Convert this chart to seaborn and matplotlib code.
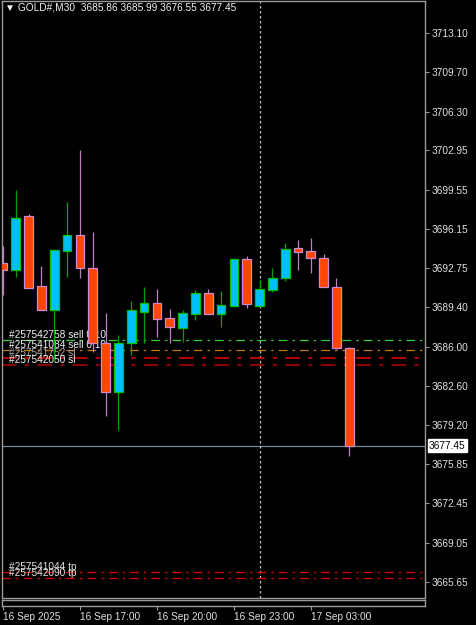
import numpy as np
import pandas as pd
import seaborn as sns
import matplotlib.pyplot as plt
from matplotlib import transforms


# =========================
# DATA (GOLD#, M30)
# =========================

opens = [3693.22, 3692.62, 3697.28, 3691.23, 3689.16, 3694.26, 3695.64, 3692.79,
         3686.31, 3682.07, 3686.31, 3688.99, 3689.76, 3688.47, 3687.60, 3688.81,
         3690.63, 3688.81, 3689.50, 3693.57, 3689.50, 3690.89, 3691.92, 3694.52,
         3694.26, 3693.65, 3691.15, 3685.86]
highs = [3694.69, 3699.53, 3697.46, 3692.96, 3694.43, 3698.49, 3702.99, 3695.90,
         3688.90, 3687.00, 3689.94, 3691.15, 3690.97, 3689.25, 3689.16, 3690.89,
         3690.97, 3690.80, 3693.65, 3693.83, 3691.75, 3692.79, 3694.95, 3695.21,
         3695.38, 3694.00, 3691.92, 3685.99]
lows = [3690.46, 3692.01, 3691.06, 3689.16, 3684.66, 3692.01, 3691.92, 3685.53,
        3680.00, 3678.79, 3685.27, 3686.31, 3686.83, 3686.31, 3686.39, 3688.29,
        3688.81, 3687.69, 3689.42, 3689.33, 3689.50, 3690.71, 3691.67, 3692.62,
        3692.36, 3691.15, 3685.79, 3676.55]
closes = [3692.62, 3697.11, 3691.06, 3689.16, 3694.34, 3695.64, 3692.79, 3686.31,
          3682.07, 3686.31, 3689.16, 3689.76, 3688.38, 3687.69, 3688.90, 3690.63,
          3688.81, 3689.59, 3693.57, 3689.68, 3690.97, 3691.92, 3694.43, 3694.17,
          3693.65, 3691.15, 3685.86, 3677.45]

time_ticks = [0, 6, 12, 18, 24]
time_labels = ["16 Sep 2025", "16 Sep 17:00", "16 Sep 20:00", "16 Sep 23:00", "17 Sep 03:00"]

price_ticks = [3713.10, 3709.70, 3706.30, 3702.95, 3699.55, 3696.15, 3692.75, 3689.40,
               3686.00, 3682.60, 3679.20, 3675.85, 3672.45, 3669.05, 3665.65]

order_levels = [3686.57, 3685.70, 3685.05, 3684.41]
order_labels = ["#257542758 sell 0.10", "#257541084 sell 0.10", "#257541752 sl", "#257542050 sl"]
order_colors = ["#32cd32", "#c8780a", "#b40000", "#8b0000"]
order_text_colors = ["#f0f0f0", "#f0f0f0", "#a8a8a8", "#f0f0f0"]

tp_levels = [3666.51, 3666.00]
tp_labels = ["#257541044 tp", "#257542090 tp"]

header = "\u25bc GOLD#,M30  3685.86 3685.99 3676.55 3677.45"
last_price = 3677.45
separator_bar = 20


# =========================
# STYLE
# =========================

sns.set_style("dark", rc={"axes.facecolor": "black", "figure.facecolor": "black"})
plt.rcParams["font.family"] = ["Liberation Sans", "DejaVu Sans"]

W, H = 476, 625
FS = 7.3
XLIM = (-0.078, 32.9)
fig = plt.figure(figsize=(W / 100, H / 100), dpi=100)

# main chart: x px 2..425, y px 1..598
ax = fig.add_axes([2 / W, 1 - 598 / H, 423 / W, 597 / H])
ax.set_facecolor("black")

df = pd.DataFrame({"o": opens, "h": highs, "l": lows, "c": closes})
df["x"] = np.arange(len(df))
df["bull"] = df["c"] >= df["o"]

bull_body, bull_edge = "#00bfff", "#00c000"
bear_body, bear_edge = "#ff4500", "#d088d0"
bull_wick, bear_wick = "#00a000", "#c080c0"

# wicks
ax.vlines(df["x"], df["l"], df["h"],
          colors=np.where(df["bull"], bull_wick, bear_wick), linewidth=0.9, zorder=3)

# bodies
bottoms = df[["o", "c"]].min(axis=1)
heights = (df["c"] - df["o"]).abs().clip(lower=0.1)
ax.bar(df["x"], heights, bottom=bottoms, width=0.68,
       color=np.where(df["bull"], bull_body, bear_body),
       edgecolor=np.where(df["bull"], bull_edge, bear_edge), linewidth=0.9, zorder=4)

# order lines (dash-dot), drawn behind the candles
dashdot = (0, (7, 4, 2, 4))
for lvl, col in zip(order_levels, order_colors):
    lw = 0.9 if col in ("#32cd32", "#c8780a") else 1.5
    ax.axhline(lvl, color=col, linestyle=dashdot, linewidth=lw, zorder=2)
for lvl in tp_levels:
    ax.axhline(lvl, color="#e00000", linestyle=dashdot, linewidth=0.9, zorder=2)

for lvl, txt, tc in zip(order_levels, order_labels, order_text_colors):
    ax.annotate(txt, xy=(0.47, lvl), xytext=(0, 2), textcoords="offset pixels",
                color=tc, fontsize=FS, va="baseline", ha="left", zorder=2.5)
for lvl, txt in zip(tp_levels, tp_labels):
    ax.annotate(txt, xy=(0.47, lvl), xytext=(0, 2), textcoords="offset pixels",
                color="#e0e0e0", fontsize=FS, va="baseline", ha="left", zorder=2.5)

# last price line + day separator
ax.axhline(last_price, color="#778899", linewidth=0.9, zorder=1)
ax.axvline(separator_bar, color="#c0c0c0", linestyle=(0, (2, 2)), linewidth=0.9, zorder=1)

ax.set_xlim(*XLIM)
ax.set_ylim(3664.27, 3715.87)

ax.yaxis.tick_right()
ax.set_yticks(price_ticks)
ax.set_yticklabels([f"{p:.2f}" for p in price_ticks])
ax.tick_params(axis="y", right=True, direction="out", length=3, width=0.8,
               color="#9a9a9a", labelcolor="#e0e0e0", labelsize=FS, pad=2)
ax.set_xticks([])
ax.grid(False)
for s in ax.spines.values():
    s.set_color("#9a9a9a")
    s.set_linewidth(1.0)
    s.set_visible(True)

# current price box
tr = transforms.blended_transform_factory(ax.transAxes, ax.transData)
ax.text(1.009, last_price, f"{last_price:.2f}", transform=tr, ha="left", va="center",
        fontsize=FS, color="black", zorder=7,
        bbox=dict(boxstyle="square,pad=0.12", facecolor="white", edgecolor="white"))

# header
fig.text(5 / W, 1 - 8 / H, header, color="#f0f0f0", fontsize=FS, va="center", ha="left")

# empty strip below the chart with the time axis
ax2 = fig.add_axes([2 / W, 1 - 606 / H, 423 / W, 6 / H])
ax2.set_facecolor("black")
ax2.set_xlim(*XLIM)
ax2.set_yticks([])
ax2.grid(False)
for s in ax2.spines.values():
    s.set_color("#9a9a9a")
    s.set_linewidth(1.0)
    s.set_visible(True)
ax2.set_xticks(time_ticks)
ax2.set_xticklabels(time_labels)
ax2.tick_params(axis="x", bottom=True, direction="out", length=3, width=0.8,
                color="#9a9a9a", labelcolor="#e0e0e0", labelsize=FS, pad=1)
for lab in ax2.get_xticklabels():
    lab.set_horizontalalignment("left")

fig.savefig("out.png", dpi=100, facecolor="black")
